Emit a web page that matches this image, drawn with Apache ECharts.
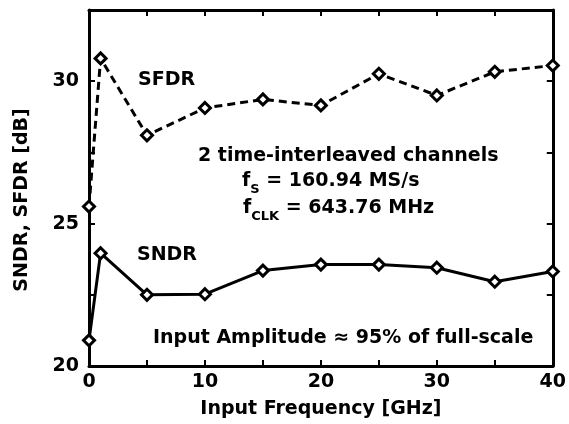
<!DOCTYPE html>
<html>
<head>
<meta charset="utf-8">
<script src="https://cdn.jsdelivr.net/npm/echarts@6/dist/echarts.min.js"></script>
<style>
  html, body { margin: 0; padding: 0; background: #fff; }
  #chart { width: 569px; height: 424px; }
</style>
</head>
<body>
<div id="chart"></div>
<script>
// input frequency [GHz]
var freq = [0, 1, 5, 10, 15, 20, 25, 30, 35, 40];
// SFDR [dB]
var sfdr = [25.6, 30.8, 28.1, 29.06, 29.36, 29.15, 30.26, 29.5, 30.33, 30.55];
// SNDR [dB]
var sndr = [20.9, 23.96, 22.5, 22.52, 23.35, 23.56, 23.56, 23.45, 22.96, 23.32];

var FONT = "DejaVu Sans";
var TXT = "bold 19px " + FONT;

var chart = echarts.init(document.getElementById("chart"));

function pairs(ys) {
  return freq.map(function (x, i) { return [x, ys[i]]; });
}

var tickStyle = { show: true, inside: true, length: 6, lineStyle: { color: "#000", width: 2 } };
var lineStyle = { color: "#000", width: 3 };
var labelFont = { fontFamily: FONT, fontWeight: "bold", fontSize: 19, color: "#000" };

var markerStyle = {
  color: "#fff",
  borderColor: "#000",
  borderWidth: 3,
};

var subRich = {
  m: { font: TXT, fill: "#000", verticalAlign: "bottom" },
  s: { font: "bold 13px " + FONT, fill: "#000", verticalAlign: "bottom", padding: [0, 0, -5, 0] },
};

chart.setOption({
  animation: false,
  grid: { left: 89, right: 14, top: 10, bottom: 58 },
  xAxis: [
    {
      type: "value",
      min: 0,
      max: 40,
      interval: 5,
      name: "Input Frequency [GHz]",
      nameLocation: "middle",
      nameGap: 34,
      nameTextStyle: { fontFamily: FONT, fontWeight: "bold", fontSize: 19, color: "#000" },
      axisLine: { show: true, lineStyle: lineStyle },
      axisTick: tickStyle,
      splitLine: { show: false },
      axisLabel: Object.assign({
        margin: 7,
        formatter: function (v) { return v % 10 === 0 ? v : ""; },
      }, labelFont),
    },
    {
      type: "value",
      position: "top",
      min: 0,
      max: 40,
      interval: 5,
      axisLine: { show: true, onZero: false, lineStyle: lineStyle },
      axisTick: tickStyle,
      axisLabel: { show: false },
      splitLine: { show: false },
    },
  ],
  yAxis: [
    {
      type: "value",
      min: 20,
      max: 32.5,
      interval: 2.5,
      name: "SNDR, SFDR [dB]",
      nameLocation: "middle",
      nameGap: 57,
      nameTextStyle: {
        fontFamily: FONT, fontWeight: "bold", fontSize: 19, color: "#000",
        padding: [0, 24, 0, 0],
      },
      axisLine: { show: true, lineStyle: lineStyle },
      axisTick: tickStyle,
      splitLine: { show: false },
      axisLabel: Object.assign({
        margin: 10,
        formatter: function (v) { return v % 5 === 0 ? v : ""; },
      }, labelFont),
    },
    {
      type: "value",
      position: "right",
      min: 20,
      max: 32.5,
      interval: 2.5,
      axisLine: { show: true, onZero: false, lineStyle: lineStyle },
      axisTick: tickStyle,
      axisLabel: { show: false },
      splitLine: { show: false },
    },
  ],
  series: [
    {
      name: "SFDR",
      type: "line",
      data: pairs(sfdr),
      symbol: "diamond",
      symbolSize: 11,
      showAllSymbol: true,
      lineStyle: { color: "#000", width: 3, type: [8, 5] },
      itemStyle: markerStyle,
      z: 3,
    },
    {
      name: "SNDR",
      type: "line",
      data: pairs(sndr),
      symbol: "diamond",
      symbolSize: 11,
      showAllSymbol: true,
      lineStyle: { color: "#000", width: 3 },
      itemStyle: markerStyle,
      z: 3,
    },
  ],
  graphic: [
    {
      type: "text",
      left: 138,
      top: 71,
      style: { text: "SFDR", font: TXT, fill: "#000" },
    },
    {
      type: "text",
      left: 137,
      top: 246,
      style: { text: "SNDR", font: TXT, fill: "#000" },
    },
    {
      type: "text",
      left: 198,
      top: 147,
      style: { text: "2 time-interleaved channels", font: TXT, fill: "#000" },
    },
    {
      type: "text",
      left: 242,
      top: 172,
      style: { text: "{m|f}{s|S}{m| = 160.94 MS/s}", font: TXT, fill: "#000", rich: subRich },
    },
    {
      type: "text",
      left: 243,
      top: 199,
      style: { text: "{m|f}{s|CLK}{m| = 643.76 MHz}", font: TXT, fill: "#000", rich: subRich },
    },
    {
      type: "text",
      left: 153,
      top: 329,
      style: { text: "Input Amplitude \u2248 95% of full-scale", font: TXT, fill: "#000" },
    },
  ],
});
</script>
</body>
</html>
